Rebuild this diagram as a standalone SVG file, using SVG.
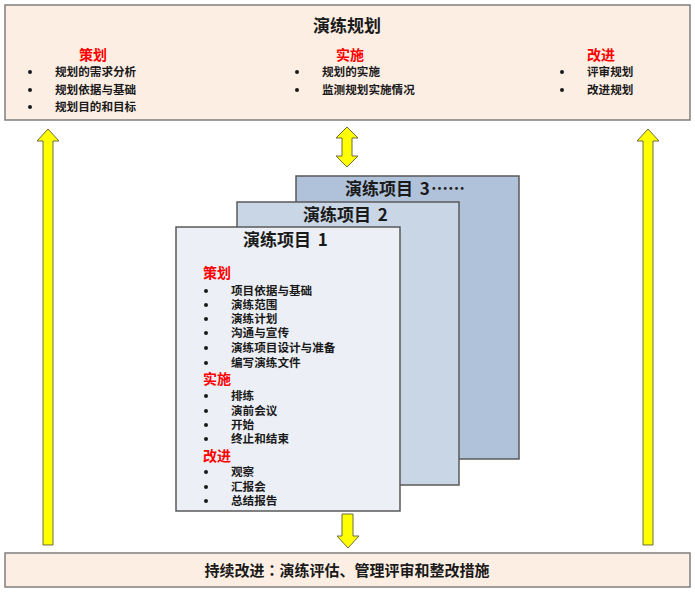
<svg xmlns="http://www.w3.org/2000/svg" width="695" height="595" viewBox="0 0 695 595">
<style>
text{font-family:"Noto Sans CJK SC","Liberation Sans",sans-serif;fill:#1a1a1a;font-weight:bold}
.box{fill:#fdeee4;stroke:#7f7f7f;stroke-width:1.5}
.card{stroke:#595959;stroke-width:1.5}
.h{fill:#ff0000;font-size:14px}
.it{font-size:11.6px}
.bt{fill:#1a1a1a}
.ttl{font-size:17px;text-anchor:middle}
.arr{fill:#ffff00;stroke:#6b6b40;stroke-width:1}
</style>
<rect width="695" height="595" fill="#ffffff"/>
<g id="top">
<rect class="box" x="5" y="5" width="685" height="115"/>
<text class="ttl" x="347" y="32">演练规划</text>
<text class="h" x="93" y="60" text-anchor="middle">策划</text>
<text class="h" x="350" y="60" text-anchor="middle">实施</text>
<text class="h" x="601" y="60" text-anchor="middle">改进</text>
<g class="bt">
<circle cx="30" cy="72" r="2"/><circle cx="30" cy="90" r="2"/><circle cx="30" cy="107" r="2"/>
<circle cx="297" cy="72" r="2"/><circle cx="297" cy="90" r="2"/>
<circle cx="562" cy="72" r="2"/><circle cx="562" cy="90" r="2"/>
</g>
<text class="it" x="55" y="76">规划的需求分析</text>
<text class="it" x="55" y="94">规划依据与基础</text>
<text class="it" x="55" y="111">规划目的和目标</text>
<text class="it" x="322" y="76">规划的实施</text>
<text class="it" x="322" y="94">监测规划实施情况</text>
<text class="it" x="587" y="76">评审规划</text>
<text class="it" x="587" y="94">改进规划</text>
</g>
<g id="card3">
<rect class="card" x="296" y="176" width="223" height="283" fill="#b0c2da"/>
<text x="345" y="195" style="font-size:17px">演练项目 <tspan dx="3">3</tspan><tspan dx="1">……</tspan></text>
</g>
<g id="card2">
<rect class="card" x="237" y="202" width="222" height="283" fill="#c9d6e6"/>
<text x="303" y="221" style="font-size:17px">演练项目 <tspan dx="3">2</tspan></text>
</g>
<g id="card1">
<rect class="card" x="176" y="227" width="224" height="284" fill="#eceff5"/>
<text x="243" y="246" style="font-size:17px">演练项目 <tspan dx="3">1</tspan></text>
<text class="h" x="203" y="278">策划</text>
<text class="h" x="203" y="384">实施</text>
<text class="h" x="203" y="461">改进</text>
<g class="bt">
<circle cx="206" cy="291" r="2"/><circle cx="206" cy="305" r="2"/><circle cx="206" cy="319" r="2"/>
<circle cx="206" cy="333" r="2"/><circle cx="206" cy="348" r="2"/><circle cx="206" cy="363" r="2"/>
<circle cx="206" cy="396" r="2"/><circle cx="206" cy="411" r="2"/><circle cx="206" cy="425" r="2"/>
<circle cx="206" cy="439" r="2"/>
<circle cx="206" cy="472" r="2"/><circle cx="206" cy="487" r="2"/><circle cx="206" cy="501" r="2"/>
</g>
<text class="it" x="231" y="295">项目依据与基础</text>
<text class="it" x="231" y="309">演练范围</text>
<text class="it" x="231" y="323">演练计划</text>
<text class="it" x="231" y="337">沟通与宣传</text>
<text class="it" x="231" y="352">演练项目设计与准备</text>
<text class="it" x="231" y="367">编写演练文件</text>
<text class="it" x="231" y="400">排练</text>
<text class="it" x="231" y="415">演前会议</text>
<text class="it" x="231" y="429">开始</text>
<text class="it" x="231" y="443">终止和结束</text>
<text class="it" x="231" y="476">观察</text>
<text class="it" x="231" y="491">汇报会</text>
<text class="it" x="231" y="505">总结报告</text>
</g>
<g id="bottom">
<rect class="box" x="5" y="553" width="685" height="34"/>
<text x="347" y="576" text-anchor="middle" style="font-size:15px">持续改进<tspan font-family="Noto Sans CJK TC, sans-serif">：</tspan>演练评估、管理评审和整改措施</text>
</g>
<g id="connectors">
<path class="arr" d="M48,129 L59,141 L53,141 L53,545 L43,545 L43,141 L37,141 Z"/>
<path class="arr" d="M648,129 L659,141 L653,141 L653,545 L643,545 L643,141 L637,141 Z"/>
<path class="arr" d="M347,127 L358,138 L352,138 L352,156 L358,156 L347,167 L336,156 L342,156 L342,138 L336,138 Z"/>
<path class="arr" d="M342,514 L353,514 L353,536 L359,536 L348,548 L337,536 L342,536 Z"/>
</g>
</svg>
